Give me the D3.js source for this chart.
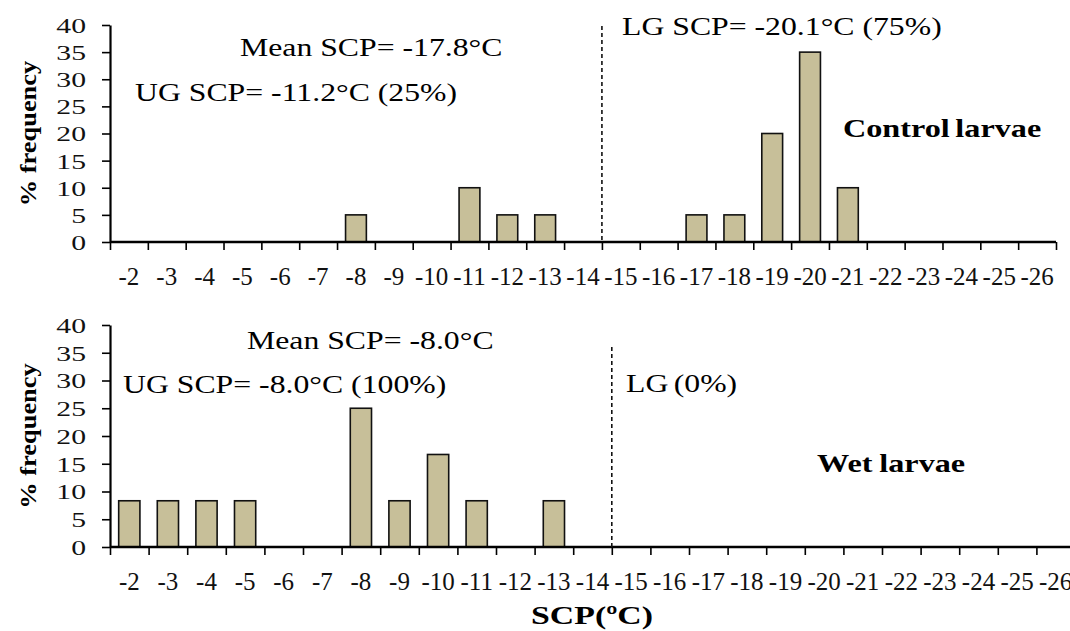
<!DOCTYPE html>
<html>
<head>
<meta charset="utf-8">
<script src="https://cdn.jsdelivr.net/npm/d3@7"></script>
<style>
  body { margin: 0; background: #fff; }
  svg { display: block; }
  svg text { font-family: "Liberation Serif", "Times New Roman", "DejaVu Serif", serif; }
</style>
</head>
<body>
<div id="chart"></div>
<script>
const categories = ["-2", "-3", "-4", "-5", "-6", "-7", "-8", "-9", "-10", "-11", "-12", "-13",
  "-14", "-15", "-16", "-17", "-18", "-19", "-20", "-21", "-22", "-23", "-24", "-25", "-26"];
const controlPct = [0, 0, 0, 0, 0, 0, 5, 0, 0, 10, 5, 5, 0, 0, 0, 5, 5, 20, 35, 10, 0, 0, 0, 0, 0];
const wetPct = [8.33, 8.33, 8.33, 8.33, 0, 0, 25, 8.33, 16.67, 8.33, 0, 8.33, 0, 0, 0, 0, 0, 0, 0, 0, 0, 0, 0, 0, 0];
const yTicks = [0, 5, 10, 15, 20, 25, 30, 35, 40];
const splitAt = "-15";
const controlNotes = ["Mean SCP= -17.8°C", "UG SCP= -11.2°C (25%)", "LG SCP= -20.1°C (75%)"];
const wetNotes = ["Mean SCP= -8.0°C", "UG SCP= -8.0°C (100%)", "LG (0%)"];

const width = 1070;
const height = 631;

const svg = d3.select("#chart").append("svg")
  .attr("width", width)
  .attr("height", height);

// text helper: stretch glyphs horizontally like the original figure
function label(g, txt, x, y, o) {
  o = o || {};
  const t = g.append("text")
    .attr("transform", `translate(${x},${y}) rotate(${o.rot || 0}) scale(${o.sx || 1},1)`)
    .attr("text-anchor", o.anchor || "start")
    .attr("font-size", o.size || 25)
    .attr("font-weight", o.bold ? "bold" : "normal")
    .attr("fill", "#000")
    .text(txt);
  if (o.ws != null) t.attr("word-spacing", o.ws);
  return t;
}

function panel(values, box) {
  const g = svg.append("g");

  const x = d3.scaleBand()
    .domain(categories)
    .range([box.left, box.right])
    .paddingInner(0.45)
    .paddingOuter(0.225);
  const edges = d3.scaleLinear()
    .domain([0, categories.length])
    .range([box.left, box.right]);
  const y = d3.scaleLinear()
    .domain([0, 40])
    .range([box.bottom, box.top]);

  // bars
  g.selectAll("rect")
    .data(categories.map((c, i) => ({ c, v: values[i] })).filter(d => d.v > 0))
    .enter()
    .append("rect")
    .attr("x", d => x(d.c))
    .attr("y", d => y(d.v))
    .attr("width", x.bandwidth())
    .attr("height", d => y(0) - y(d.v))
    .attr("fill", "#c7bf99")
    .attr("stroke", "#111")
    .attr("stroke-width", 1.6);

  // y axis
  const yAxis = g.append("g")
    .attr("transform", `translate(${box.left},0)`)
    .call(d3.axisLeft(y).tickValues(yTicks).tickSize(8).tickPadding(16).tickSizeOuter(0));
  yAxis.attr("font-family", null);
  yAxis.select(".domain").attr("stroke-width", 2.2);
  yAxis.selectAll(".tick line").attr("stroke-width", 1.6);
  yAxis.selectAll(".tick text")
    .attr("font-size", 22)
    .attr("fill", "#111")
    .attr("dy", "0.34em")
    .each(function () {
      const t = d3.select(this);
      const tx = +t.attr("x");
      t.attr("x", 0).attr("transform", `translate(${tx},0) scale(1.35,1)`);
    });

  // x axis tick marks at bin edges
  const xEdges = g.append("g")
    .attr("transform", `translate(0,${box.bottom})`)
    .call(d3.axisBottom(edges).tickValues(d3.range(categories.length + 1)).tickSize(8).tickFormat(""));
  xEdges.select(".domain").attr("stroke-width", 2.4).attr("d", `M${box.left},0H${box.right}`);
  xEdges.selectAll(".tick line").attr("stroke-width", 1.6);

  // x labels at bin centres
  const xLab = g.append("g")
    .attr("transform", `translate(0,${box.bottom})`)
    .call(d3.axisBottom(x).tickSize(0).tickPadding(0));
  xLab.attr("font-family", null);
  xLab.select(".domain").remove();
  xLab.selectAll(".tick text")
    .attr("font-size", 25)
    .attr("fill", "#111")
    .attr("y", 43)
    .attr("dy", 0);

  // dashed split line between upper and lower group
  const sx = x(splitAt) - x.step() * x.paddingInner() / 2;
  g.append("line")
    .attr("x1", sx).attr("x2", sx)
    .attr("y1", box.dashTop).attr("y2", box.bottom)
    .attr("stroke", "#111")
    .attr("stroke-width", 1.6)
    .attr("stroke-dasharray", "4,3");

  // y title
  label(g, "% frequency", 36, (box.top + box.bottom) / 2,
    { rot: -90, anchor: "middle", bold: true, size: 24, sx: 1.1 });

  return g;
}

const topPanel = panel(controlPct, { left: 110, right: 1056, top: 25, bottom: 242, dashTop: 26 });
label(topPanel, controlNotes[0], 240, 56, { sx: 1.27 });
label(topPanel, controlNotes[1], 135, 101, { sx: 1.27 });
label(topPanel, controlNotes[2], 622, 35, { sx: 1.27 });
label(topPanel, "Control larvae", 843, 137, { bold: true, size: 26, sx: 1.24, ws: -2 });

const bottomPanel = panel(wetPct, { left: 110, right: 1075, top: 325, bottom: 547, dashTop: 347 });
label(bottomPanel, wetNotes[0], 247, 349, { sx: 1.27 });
label(bottomPanel, wetNotes[1], 123, 393, { sx: 1.27 });
label(bottomPanel, wetNotes[2], 626, 392, { sx: 1.27, ws: -2 });
label(bottomPanel, "Wet larvae", 817, 472, { bold: true, size: 26, sx: 1.24, ws: -1 });

label(svg, "SCP(ºC)", 592, 624, { bold: true, size: 26, sx: 1.3, anchor: "middle" });
</script>
</body>
</html>
